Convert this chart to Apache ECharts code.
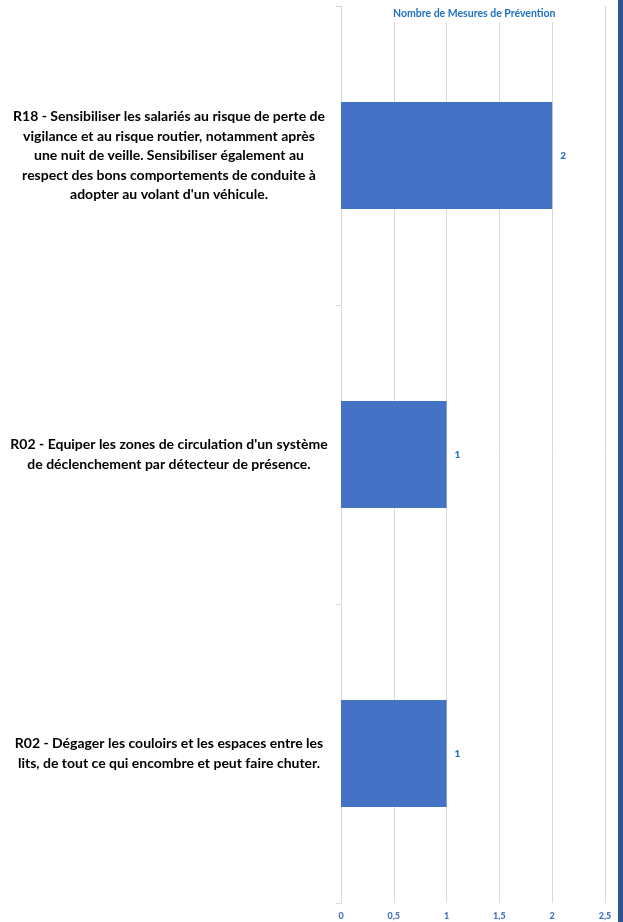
<!DOCTYPE html>
<html>
<head>
<meta charset="utf-8">
<script src="https://cdn.jsdelivr.net/npm/echarts@6/dist/echarts.min.js"></script>
<style>
  html, body { margin: 0; padding: 0; background: #fff; }
  #chart { width: 618px; height: 922px; border-right: 5px solid #2F5597; }
</style>
</head>
<body>
<div id="chart"></div>
<script>
const categories = [
  "R18 - Sensibiliser les salariés au risque de perte de\nvigilance et au risque routier, notamment après\nune nuit de veille. Sensibiliser également au\nrespect des bons comportements de conduite à\nadopter au volant d'un véhicule.",
  "R02 - Equiper les zones de circulation d'un système\nde déclenchement par détecteur de présence.",
  "R02 - Dégager les couloirs et les espaces entre les\nlits, de tout ce qui encombre et peut faire chuter."
];
const mesures = [2, 1, 1];
const xTicks = { min: 0, max: 2.5, interval: 0.5 };

const chart = echarts.init(document.getElementById('chart'));

const option = {
  animation: false,
  title: {
    text: 'Nombre de Mesures de Prévention',
    left: 390,
    top: 5,
    padding: [3, 3, 3, 3],
    backgroundColor: '#fff',
    textStyle: { color: '#1F6FC5', fontSize: 10.5, fontWeight: 'bold', fontFamily: 'Lato' }
  },
  grid: { left: 341, right: 13, top: 6, bottom: 19 },
  xAxis: {
    type: 'value',
    min: xTicks.min,
    max: xTicks.max,
    interval: xTicks.interval,
    axisLine: { show: false },
    axisTick: { show: false },
    splitLine: { lineStyle: { color: '#D9D9D9', width: 1 } },
    axisLabel: {
      color: '#4472C4',
      fontSize: 9,
      fontWeight: 900,
      fontFamily: 'Lato',
      margin: 9,
      formatter: v => String(v).replace('.', ',')
    }
  },
  yAxis: {
    type: 'category',
    data: categories,
    inverse: true,
    axisLine: { show: true, lineStyle: { color: '#D9D9D9' } },
    axisTick: { show: true, length: 5, lineStyle: { color: '#D9D9D9' } },
    axisLabel: {
      align: 'center',
      margin: 172,
      color: '#000',
      fontSize: 14,
      fontWeight: 'bold',
      fontFamily: 'Lato',
      lineHeight: 19.5
    }
  },
  series: [{
    type: 'bar',
    data: mesures,
    barWidth: 107,
    itemStyle: { color: '#4472C4' },
    label: {
      show: true,
      position: 'right',
      distance: 8,
      color: '#1F6FC5',
      fontSize: 10,
      fontWeight: 900,
      fontFamily: 'Lato'
    }
  }]
};

chart.setOption(option);
</script>
</body>
</html>
